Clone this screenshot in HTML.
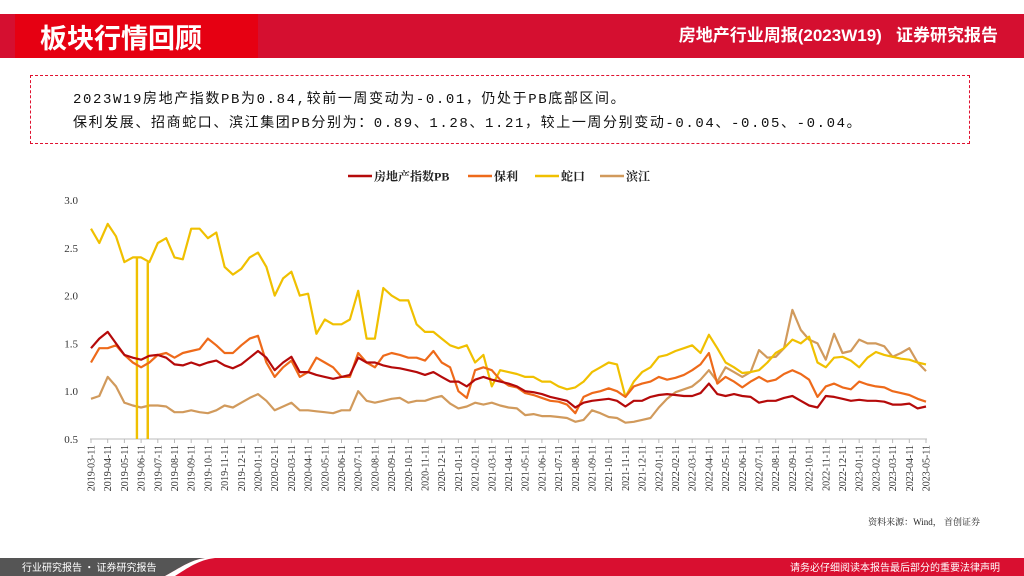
<!DOCTYPE html>
<html><head><meta charset="utf-8">
<style>
body{margin:0;width:1024px;height:576px;overflow:hidden;background:#fff;font-family:"Liberation Sans","Noto Sans CJK SC",sans-serif;position:relative}
.abs{position:absolute}
</style></head><body>
<div class="abs" style="left:0;top:14px;width:1024px;height:44px;background:#d50f30"></div>
<div class="abs" style="left:15px;top:14px;width:243px;height:44px;background:#e60012"></div>
<div class="abs" style="left:40px;top:19px;color:#fff;font-size:27px;font-weight:bold;font-family:'Noto Sans CJK SC',sans-serif;line-height:36px">板块行情回顾</div>
<div class="abs" style="right:26px;top:24px;color:#fff;font-size:17px;font-weight:bold;font-family:'Liberation Sans','Noto Sans CJK SC',sans-serif;line-height:24px;white-space:pre">房地产行业周报(2023W19)   证券研究报告</div>
<div class="abs" style="left:30px;top:75px;width:938px;height:67px;border:1px dashed #e0102f"></div>
<div class="abs" style="left:73px;top:90px;font-size:14px;letter-spacing:1.6px;font-family:'Liberation Mono','Noto Sans CJK SC',monospace;color:#111;line-height:20px;white-space:nowrap">2023W19房地产指数PB为0.84,较前一周变动为-0.01，仍处于PB底部区间。</div>
<div class="abs" style="left:73px;top:114px;font-size:14px;letter-spacing:1.6px;font-family:'Liberation Mono','Noto Sans CJK SC',monospace;color:#111;line-height:20px;white-space:nowrap">保利发展、招商蛇口、滨江集团PB分别为：0.89、1.28、1.21，较上一周分别变动-0.04、-0.05、-0.04。</div>

<svg class="abs" style="left:0;top:0" width="1024" height="576" id="chart">
<g id="legend"></g>
<g id="axes"></g>
<g id="series"></g>
</svg>
<div class="abs" style="right:44px;top:515px;font-size:9px;font-family:'Liberation Serif','Noto Serif CJK SC',serif;color:#222;white-space:pre">资料来源：Wind， 首创证券</div>

<svg class="abs" style="left:0;top:556px" width="1024" height="20">
<rect x="0" y="2" width="1024" height="18" fill="#d90f30"/>
<path d="M0 2 L205 2 C190 4 180 12 165 20 L0 20 Z" fill="#555"/>
<path d="M175 20 C188 12 198 4 215 2 L205 2 C190 4 180 12 165 20 Z" fill="#fff"/>
<text x="22" y="15" fill="#fff" font-size="10" font-family="'Noto Sans CJK SC',sans-serif">行业研究报告 · 证券研究报告</text>
<text x="1000" y="15" fill="#fff" font-size="10" text-anchor="end" font-family="'Noto Sans CJK SC',sans-serif">请务必仔细阅读本报告最后部分的重要法律声明</text>
</svg>

<script>
const months=[];
for(let y=2019;y<=2023;y++)for(let m=1;m<=12;m++){if((y==2019&&m<3)||(y==2023&&m>5))continue;months.push(y+'-'+String(m).padStart(2,'0')+'-11');}
const yTicks=[0.5,1.0,1.5,2.0,2.5,3.0];
const seriesNames=['房地产指数PB','保利','蛇口','滨江'];
const seriesColors=['#b50a0a','#ee6a1a','#f0c000','#d19a5c'];
const pbIndex=[1.45,1.55,1.62,1.5,1.38,1.35,1.33,1.37,1.38,1.35,1.28,1.27,1.3,1.27,1.3,1.32,1.27,1.24,1.28,1.35,
1.42,1.35,1.22,1.3,1.36,1.2,1.2,1.17,1.15,1.13,1.15,1.17,1.35,1.3,1.3,1.27,1.25,1.24,1.22,1.2,1.17,1.2,1.15,1.1,
1.1,1.05,1.12,1.15,1.12,1.1,1.08,1.05,1.0,0.99,0.97,0.94,0.92,0.9,0.83,0.88,0.9,0.91,0.92,0.9,0.84,0.9,0.9,0.94,
0.96,0.97,0.96,0.95,0.95,0.98,1.08,0.97,0.95,0.97,0.95,0.94,0.88,0.9,0.9,0.93,0.95,0.9,0.85,0.83,0.95,0.94,0.92,0.9,
0.91,0.9,0.9,0.89,0.86,0.86,0.87,0.82,0.84];
const poly=[1.3,1.45,1.45,1.48,1.38,1.3,1.25,1.3,1.38,1.4,1.35,1.4,1.42,1.44,1.55,1.48,1.4,1.4,1.48,1.55,
1.58,1.3,1.15,1.25,1.32,1.15,1.2,1.35,1.3,1.25,1.15,1.15,1.4,1.3,1.25,1.37,1.4,1.38,1.35,1.35,1.32,1.42,1.3,1.25,
1.0,0.93,1.22,1.25,1.22,1.12,1.06,1.04,0.98,0.96,0.93,0.9,0.89,0.86,0.77,0.94,0.98,1.0,1.03,1.0,0.94,1.05,1.08,1.1,
1.15,1.12,1.14,1.17,1.22,1.28,1.4,1.08,1.15,1.1,1.04,1.1,1.15,1.1,1.12,1.18,1.22,1.18,1.12,0.94,1.05,1.08,1.04,1.02,
1.1,1.07,1.05,1.04,1.0,0.98,0.96,0.92,0.89];
const shekou=[2.7,2.55,2.75,2.62,2.35,2.4,2.4,2.35,2.55,2.6,2.4,2.38,2.7,2.7,2.6,2.66,2.3,2.22,2.28,2.4,
2.45,2.3,2.0,2.18,2.25,2.0,2.02,1.6,1.75,1.7,1.7,1.75,2.05,1.55,1.55,2.08,2.0,1.95,1.95,1.7,1.62,1.62,1.55,1.48,
1.45,1.48,1.3,1.38,1.05,1.22,1.2,1.18,1.15,1.15,1.1,1.1,1.05,1.02,1.04,1.1,1.2,1.25,1.3,1.28,0.94,1.1,1.2,1.25,
1.36,1.38,1.42,1.45,1.48,1.4,1.59,1.45,1.3,1.25,1.19,1.2,1.22,1.3,1.4,1.45,1.54,1.5,1.57,1.3,1.25,1.35,1.36,1.32,
1.25,1.35,1.41,1.38,1.36,1.34,1.33,1.3,1.28];
const binjiang=[0.92,0.95,1.15,1.05,0.88,0.85,0.83,0.85,0.85,0.84,0.78,0.78,0.8,0.78,0.77,0.8,0.85,0.83,0.88,0.93,
0.97,0.9,0.8,0.84,0.88,0.8,0.8,0.79,0.78,0.77,0.8,0.8,1.0,0.9,0.88,0.9,0.92,0.93,0.88,0.9,0.9,0.93,0.95,0.87,
0.82,0.84,0.88,0.86,0.88,0.85,0.83,0.82,0.75,0.76,0.74,0.74,0.73,0.72,0.68,0.7,0.8,0.77,0.73,0.72,0.67,0.68,0.7,0.72,
0.83,0.92,0.99,1.02,1.05,1.12,1.22,1.1,1.25,1.2,1.15,1.2,1.43,1.35,1.36,1.45,1.85,1.64,1.54,1.5,1.33,1.6,1.4,1.42,
1.54,1.5,1.5,1.47,1.36,1.4,1.45,1.3,1.21];
const shekouDips=[5.5,6.8];
const binjiangDips=[6.8];

const NS='http://www.w3.org/2000/svg';
const X0=91,X1=926,Y0=439,Y1=200,VMIN=0.5,VMAX=3.0;
const nPts=pbIndex.length;
function xPos(i){return X0+(X1-X0)*i/(nPts-1);}
function xMonth(k){return X0+(X1-X0)*k/(months.length-1);}
function yPos(v){return Y0-(v-VMIN)/(VMAX-VMIN)*(Y0-Y1);}
function mk(tag,attrs,parent){const e=document.createElementNS(NS,tag);for(const k in attrs)e.setAttribute(k,attrs[k]);parent.appendChild(e);return e;}
const axes=document.getElementById('axes'),sg=document.getElementById('series'),lg=document.getElementById('legend');

const axisLine=mk('line',{x1:X0-1,x2:X1+1,y1:Y0,y2:Y0,stroke:'#bbb','stroke-width':1},axes);


yTicks.forEach(v=>{
  const t=mk('text',{x:78,y:yPos(v)+4,'text-anchor':'end','font-size':11,'font-family':"'Liberation Serif',serif",fill:'#333'},axes);
  t.textContent=v.toFixed(1);
  
  
});
months.forEach((m,k)=>{
  const x=xMonth(k);
  const tk=mk('line',{x1:x,x2:x,y1:Y0,y2:Y0+4,stroke:'#bbb'},axes);
  
  
  const t=mk('text',{transform:`translate(${x+3.5},${Y0+6}) rotate(-90)`,'text-anchor':'end','font-size':10,'font-family':"'Liberation Serif',serif",fill:'#333'},axes);
  t.textContent=m;
  
  
});
const data=[pbIndex,poly,shekou,binjiang];
const drawOrder=[3,2,1,0];
drawOrder.forEach(s=>{
  const arr=data[s];
  let d='';
  arr.forEach((v,i)=>{d+=(i?'L':'M')+xPos(i).toFixed(1)+' '+yPos(v).toFixed(1);});
  const p=mk('path',{d:d,fill:'none',stroke:seriesColors[s],'stroke-width':2.2,'stroke-linejoin':'round'},sg);
  
  
  const dips=s==2?shekouDips:(s==3?binjiangDips:[]);
  dips.forEach(di=>{
    const v=arr[Math.round(di)];
    const l=mk('line',{x1:xPos(di),x2:xPos(di),y1:yPos(v),y2:Y0,stroke:seriesColors[s],'stroke-width':2.4},sg);
    
    
  });
});
const legX=[348,468,535,600];
seriesNames.forEach((n,s)=>{
  const g=mk('g',{},lg);
  
  
  mk('line',{x1:legX[s],x2:legX[s]+24,y1:176,y2:176,stroke:seriesColors[s],'stroke-width':2.5},g);
  const t=mk('text',{x:legX[s]+26,y:180.5,'font-size':12,'font-weight':'bold','font-family':"'Liberation Serif','Noto Serif CJK SC',serif",fill:'#222'},g);
  t.textContent=n;
});
</script>
</body></html>
